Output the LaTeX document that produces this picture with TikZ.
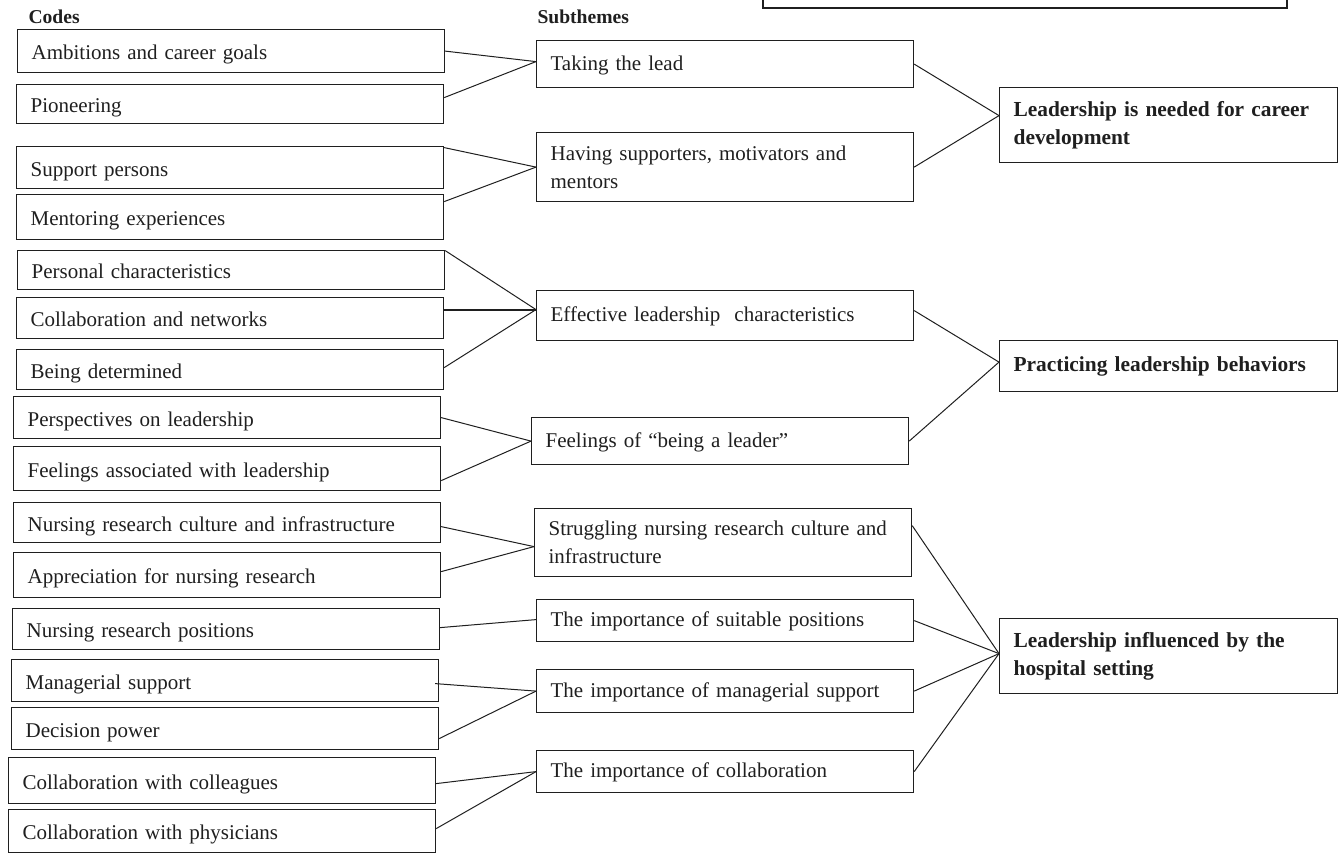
\documentclass[tikz,border=0pt]{standalone}
\usepackage{fontspec}
\setmainfont{Liberation Serif}
\usepackage{tikz}

\begin{document}
\begin{tikzpicture}
  [x=0.5pt,y=-0.5pt,color=black!88,line width=0.5pt,
   box/.style={draw,rectangle,anchor=north west,align=left,inner xsep=7pt,inner ysep=0pt,
     line width=0.6pt,font=\fontsize{10.5}{14}\selectfont},
   code/.style={box,text width=199.5pt,text height=8.5pt,text depth=0pt},
   sub/.style={box,text width=174.5pt,text height=7.5pt,text depth=1.5pt},
   two/.style={text height=,text depth=},
   theme/.style={box,text width=155pt,font=\fontsize{10.7}{14}\selectfont\bfseries},
   head/.style={anchor=base west,inner sep=0pt,font=\fontsize{9.8}{12}\selectfont\bfseries}]
  \useasboundingbox (0,0) rectangle (1340,853);

  % column titles
  \node[head] (codes) at (28,23) {Codes};
  \node[head] (subthemes) at (537,23) {Subthemes};

  % box cut off by the top edge
  \draw[line width=0.6pt] (763,0) -- (763,8) -- (1287,8) -- (1287,0);

  % codes
  \node[code,minimum height=21.5pt] (c1) at (17,29)  {Ambitions and career goals};
  \node[code,minimum height=19.5pt] (c2) at (16,84)  {Pioneering};
  \node[code,minimum height=21pt]   (c3) at (16,146) {Support persons};
  \node[code,minimum height=22.5pt] (c4) at (16,194) {Mentoring experiences};
  \node[code,minimum height=19.5pt] (c5) at (17,250) {Personal characteristics};
  \node[code,minimum height=20.5pt] (c6) at (16,297) {Collaboration and networks};
  \node[code,minimum height=20pt]   (c7) at (16,349) {Being determined};
  \node[code,minimum height=21pt]   (c8) at (13,396) {Perspectives on leadership};
  \node[code,minimum height=22pt]   (c9) at (13,446) {Feelings associated with leadership};
  \node[code,minimum height=20pt]   (c10) at (13,502) {Nursing research culture and infrastructure};
  \node[code,minimum height=22.5pt] (c11) at (13,552) {Appreciation for nursing research};
  \node[code,minimum height=20.5pt] (c12) at (12,608) {Nursing research positions};
  \node[code,minimum height=21pt]   (c13) at (11,659) {Managerial support};
  \node[code,minimum height=21pt]   (c14) at (11,707) {Decision power};
  \node[code,minimum height=23pt]   (c15) at (8,757)  {Collaboration with colleagues};
  \node[code,minimum height=21.5pt] (c16) at (8,809)  {Collaboration with physicians};

  % subthemes
  \node[sub,minimum height=23.5pt]     (s1) at (536,40)  {Taking the lead};
  \node[sub,two,minimum height=34.5pt] (s2) at (536,132) {Having supporters, motivators and\\ mentors};
  \node[sub,minimum height=25pt]       (s3) at (536,290) {Effective leadership\ \ characteristics};
  \node[sub,minimum height=23.5pt]     (s4) at (531,417) {Feelings of “being a leader”};
  \node[sub,two,minimum height=34pt]   (s5) at (534,508) {Struggling nursing research culture and\\ infrastructure};
  \node[sub,minimum height=21pt]       (s6) at (536,599) {The importance of suitable positions};
  \node[sub,minimum height=21.5pt]     (s7) at (536,669) {The importance of managerial support};
  \node[sub,minimum height=21pt]       (s8) at (536,750) {The importance of collaboration};

  % themes
  \node[theme,minimum height=37.5pt] (t1) at (999,87)  {Leadership is needed for career\\ development};
  \node[theme,minimum height=25.5pt] (t2) at (999,340) {Practicing leadership behaviors};
  \node[theme,minimum height=37.5pt] (t3) at (999,618) {Leadership influenced by the\\ hospital setting};

  \foreach \a/\d/\b/\e in {c1/0/s1/1.25, c2/3.25/s1/1.25, c3/10/s2/0, c4/7.75/s2/0,
      c5/9.75/s3/3, c7/1/s3/3, c8/0/s4/0, c9/-6/s4/0,
      c10/-2/s5/-2, c11/1.75/s5/-2, c12/0.75/s6/0.5, c14/-5/s7/0,
      c15/-1.5/s8/0, c16/1.25/s8/0}
    \draw ([yshift=\d pt]\a.east) -- ([yshift=\e pt]\b.west);
  \draw[line width=1pt] ([yshift=4.25pt]c6.east) -- ([yshift=3pt]s3.west);
  \draw ([xshift=-2pt,yshift=-1.5pt]c13.east) -- (s7.west);

  \foreach \a/\d/\b/\e in {s1/0/t1/4.75, s2/0/t1/4.75, s3/2.5/t2/2, s4/0/t2/2,
      s5/8.5/t3/1.25, s6/0/t3/1.25, s7/0/t3/1.25, s8/0/t3/1.25}
    \draw ([yshift=\d pt]\a.east) -- ([yshift=\e pt]\b.west);

\end{tikzpicture}
\end{document}
